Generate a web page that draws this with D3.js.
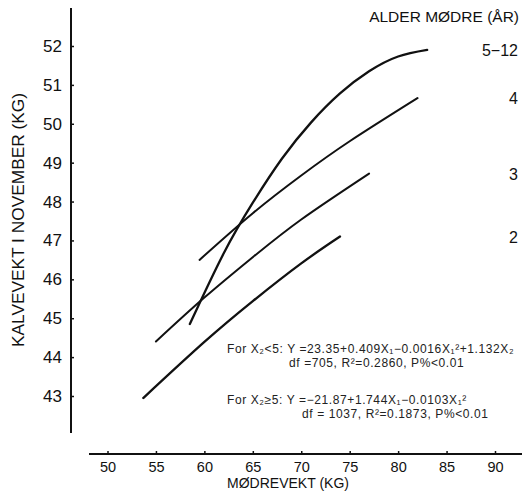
<!DOCTYPE html>
<html>
<head>
<meta charset="utf-8">
<script src="https://cdn.jsdelivr.net/npm/d3@7"></script>
<style>
  html, body { margin: 0; padding: 0; background: #fff; }
  svg { display: block; font-family: "Liberation Sans", Arial, Helvetica, sans-serif; }
</style>
</head>
<body>
<svg id="chart" width="526" height="496"></svg>
<script>
// ---- data ----
const xTicks = [50, 55, 60, 65, 70, 75, 80, 85, 90];
const yTicks = [43, 44, 45, 46, 47, 48, 49, 50, 51, 52];

const ageLabels = ["5\u221212", "4", "3", "2"];

const age512X = [58.5, 62, 65, 68, 71, 74, 77, 80, 83];
const age512Y = [44.85, 46.67, 47.97, 49.10, 50.03, 50.78, 51.35, 51.73, 51.90];

const age4X = [59.5, 65, 70, 75, 82];
const age4Y = [46.50, 47.70, 48.67, 49.55, 50.66];

const age3X = [55, 60, 65, 70, 77];
const age3Y = [44.40, 45.53, 46.57, 47.54, 48.72];

const age2X = [53.7, 60, 65, 70, 74];
const age2Y = [42.95, 44.39, 45.44, 46.41, 47.10];

const xTitle = "M\u00D8DREVEKT (KG)";
const yTitle = "KALVEVEKT I NOVEMBER (KG)";
const legendTitle = "ALDER M\u00D8DRE (\u00C5R)";

const annotLines = [
  "For X\u2082<5: Y =23.35+0.409X\u2081\u22120.0016X\u2081\u00B2+1.132X\u2082",
  "df =705, R\u00B2=0.2860, P%<0.01",
  "For X\u2082\u22655: Y =\u221221.87+1.744X\u2081\u22120.0103X\u2081\u00B2",
  "df = 1037, R\u00B2=0.1873, P%<0.01"
];

// ---- drawing ----
const svg = d3.select("#chart");
const x = d3.scaleLinear().domain([50, 90]).range([107.5, 495]);
const y = d3.scaleLinear().domain([43, 52]).range([396, 46]);

const series = [
  {label: ageLabels[0], xs: age512X, ys: age512Y, w: 2.3},
  {label: ageLabels[1], xs: age4X, ys: age4Y, w: 2.0},
  {label: ageLabels[2], xs: age3X, ys: age3Y, w: 2.0},
  {label: ageLabels[3], xs: age2X, ys: age2Y, w: 2.3}
];

// axis lines
svg.append("line").attr("x1", 71).attr("x2", 71).attr("y1", 8).attr("y2", 433)
  .attr("stroke", "#111").attr("stroke-width", 2);
svg.append("line").attr("x1", 89).attr("x2", 522).attr("y1", 454).attr("y2", 454)
  .attr("stroke", "#111").attr("stroke-width", 2);

// y axis
const gy = svg.append("g").attr("transform", "translate(71,0)")
  .call(d3.axisLeft(y).tickValues(yTicks).tickFormat(d3.format("d")).tickSize(-3).tickPadding(9));
gy.select(".domain").remove();
gy.selectAll(".tick line").attr("stroke", "#111").attr("stroke-width", 1.5);
gy.selectAll(".tick text").attr("font-size", 17).attr("fill", "#111")
  .attr("font-family", "'Liberation Sans', Arial, sans-serif");

// x axis
const gx = svg.append("g").attr("transform", "translate(0,454)")
  .call(d3.axisBottom(x).tickValues(xTicks).tickFormat(d3.format("d")).tickSize(-3).tickPadding(8));
gx.select(".domain").remove();
gx.selectAll(".tick line").attr("stroke", "#111").attr("stroke-width", 1.5);
gx.selectAll(".tick text").attr("font-size", 14.5).attr("fill", "#111")
  .attr("font-family", "'Liberation Sans', Arial, sans-serif");

// titles
svg.append("text").attr("x", 288).attr("y", 488).attr("text-anchor", "middle")
  .attr("font-size", 14).attr("fill", "#111").text(xTitle);
svg.append("text").attr("transform", "translate(24,220) rotate(-90)")
  .attr("text-anchor", "middle").attr("font-size", 17).attr("fill", "#111")
  .attr("textLength", 254).attr("lengthAdjust", "spacingAndGlyphs")
  .text(yTitle);
svg.append("text").attr("x", 519).attr("y", 22).attr("text-anchor", "end")
  .attr("font-size", 15.5).attr("fill", "#111").text(legendTitle);

// curves
const line = d3.line().x(d => x(d[0])).y(d => y(d[1])).curve(d3.curveNatural);
series.forEach(s => {
  const pts = s.xs.map((v, i) => [v, s.ys[i]]);
  svg.append("path").datum(pts).attr("d", line)
    .attr("fill", "none").attr("stroke", "#111").attr("stroke-width", s.w)
    .attr("stroke-linecap", "round");
  svg.append("text").attr("x", 518).attr("y", y(s.ys[s.ys.length - 1]) + 6)
    .attr("text-anchor", "end").attr("font-size", 16).attr("fill", "#111").text(s.label);
});

// annotations
const annotPos = [[227, 353], [289, 367], [227, 404], [302, 418]];
annotLines.forEach((txt, i) => {
  svg.append("text").attr("x", annotPos[i][0]).attr("y", annotPos[i][1])
    .attr("font-size", 12).attr("letter-spacing", 0.6).attr("fill", "#222").text(txt);
});
</script>
</body>
</html>
